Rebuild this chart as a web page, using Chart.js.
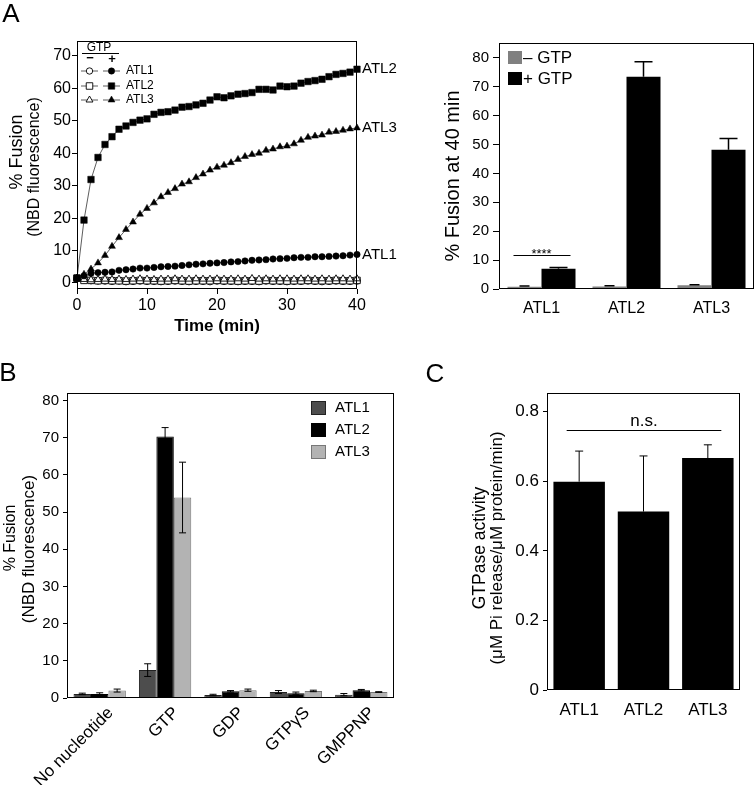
<!DOCTYPE html>
<html><head><meta charset="utf-8">
<script src="https://cdn.jsdelivr.net/npm/chart.js@4.4.1/dist/chart.umd.min.js"></script>
<style>
html,body{margin:0;padding:0;background:#fff;}
body{width:755px;height:785px;position:relative;overflow:hidden;font-family:"Liberation Sans",Arial,Helvetica,sans-serif;color:#000;}
canvas{position:absolute;}
.t{position:absolute;white-space:nowrap;line-height:1;transform:translate(-50%,-50%);}
.r{transform:translate(-50%,-50%) rotate(-90deg);}
</style></head>
<body>
<canvas id="cA1" width="400" height="340" style="left:0;top:0;width:400px;height:340px"></canvas>
<canvas id="cA2" width="375" height="340" style="left:380px;top:0;width:375px;height:340px"></canvas>
<canvas id="cB" width="400" height="445" style="left:0;top:340px;width:400px;height:445px"></canvas>
<canvas id="cC" width="355" height="445" style="left:400px;top:340px;width:355px;height:445px"></canvas>

<div class="t" style="left:11px;top:13px;font-size:26px">A</div>
<div class="t" style="left:8px;top:372px;font-size:26px">B</div>
<div class="t" style="left:435px;top:373px;font-size:26px">C</div>

<div class="t r" style="left:16px;top:152px;font-size:18px">% Fusion</div>
<div class="t r" style="left:34px;top:167px;font-size:16px">(NBD fluorescence)</div>
<div class="t" style="left:217px;top:325px;font-size:17px;font-weight:bold">Time (min)</div>
<div class="t r" style="left:452px;top:176px;font-size:20px">% Fusion at 40 min</div>
<div class="t r" style="left:10px;top:538px;font-size:16px">% Fusion</div>
<div class="t r" style="left:28px;top:549px;font-size:17px">(NBD fluorescence)</div>
<div class="t r" style="left:480px;top:548px;font-size:17.5px">GTPase activity</div>
<div class="t r" style="left:496px;top:548px;font-size:17px">(μM Pi release/μM protein/min)</div>

<script>
// ---------------- DATA ----------------
const timeMin = [0,1,2,3,4,5,6,7,8,9,10,11,12,13,14,15,16,17,18,19,20,21,22,23,24,25,26,27,28,29,30,31,32,33,34,35,36,37,38,39,40];
const atl2Plus = [1.5,19.4,31.9,38.7,42.7,45.1,47.4,48.4,49.5,50.2,50.6,52.0,52.6,52.8,53.3,54.2,54.4,54.9,55.4,56.4,57.4,57.1,57.7,58.2,58.4,58.7,59.7,59.7,59.5,60.7,60.5,60.7,61.6,62.1,62.4,62.8,63.6,64.3,64.6,65.0,65.9];
const atl3Plus = [1.5,2.7,4.3,6.2,8.5,11.3,14.0,16.5,18.8,21.2,23.0,24.7,26.6,27.9,29.1,30.5,31.2,32.5,33.6,34.8,35.7,36.3,37.1,38.1,39.0,39.6,40.0,40.9,41.3,42.0,42.2,42.9,44.0,44.9,45.3,45.6,46.5,46.7,47.1,47.5,47.8];
const atl1Plus = [1.5,2.2,3.0,3.2,3.3,3.4,3.9,4.1,4.3,4.6,4.6,4.8,5.0,5.1,5.2,5.4,5.6,5.8,5.9,6.1,6.2,6.3,6.5,6.6,6.8,7.0,7.1,7.2,7.4,7.5,7.6,7.8,7.9,7.9,8.1,8.1,8.2,8.3,8.4,8.6,8.8];
const atl1Minus = [1.5,0.9,0.7,0.6,0.6,0.5,0.6,0.4,0.5,0.6,0.5,0.5,0.4,0.5,0.6,0.5,0.4,0.5,0.5,0.4,0.6,0.5,0.5,0.4,0.5,0.5,0.4,0.6,0.5,0.5,0.4,0.5,0.5,0.6,0.5,0.4,0.5,0.6,0.5,0.5,0.6];
const atl2Minus = [1.5,0.8,0.8,0.7,0.8,0.7,0.7,0.6,0.7,0.8,0.7,0.7,0.6,0.7,0.8,0.7,0.6,0.7,0.7,0.7,0.8,0.7,0.7,0.6,0.7,0.7,0.6,0.8,0.7,0.7,0.6,0.7,0.7,0.8,0.7,0.7,0.7,0.8,0.7,0.7,0.8];
const atl3Minus = [1.5,1.1,1.0,1.1,1.2,1.1,1.2,1.1,1.2,1.3,1.2,1.1,1.2,1.2,1.3,1.2,1.2,1.3,1.2,1.2,1.3,1.2,1.2,1.3,1.2,1.4,1.2,1.3,1.2,1.3,1.3,1.2,1.3,1.3,1.2,1.3,1.2,1.3,1.3,1.2,1.3];
const fusionTicks = [0,10,20,30,40,50,60,70];
const timeTicks = [0,10,20,30,40];

const endCats = ['ATL1','ATL2','ATL3'];
const endMinus = [0.8,0.9,1.3];
const endMinusErr = [0.2,0.2,0.2];
const endPlus = [7.0,73.4,48.2];
const endPlusErr = [0.4,5.2,3.9];
const endTicks = [0,10,20,30,40,50,60,70,80];
const endSigLevel = 11.8;

const nucCats = ['No nucleotide','GTP','GDP','GTPγS','GMPPNP'];
const nucATL1 = [1.1,7.5,0.8,1.6,0.9];
const nucATL1Err = [0.2,1.7,0.2,0.4,0.3];
const nucATL2 = [1.1,70.3,1.8,1.3,2.1];
const nucATL2Err = [0.3,2.4,0.2,0.3,0.2];
const nucATL3 = [2.0,53.9,2.1,1.9,1.6];
const nucATL3Err = [0.4,9.5,0.3,0.2,0.1];
const nucTicks = [0,10,20,30,40,50,60,70,80];

const gtpCats = ['ATL1','ATL2','ATL3'];
const gtpVals = [0.599,0.513,0.667];
const gtpErr = [0.088,0.160,0.038];
const gtpTicks = [0,0.2,0.4,0.6,0.8];
const gtpSigLevel = 0.747;

// ---------------- SETUP ----------------
const FF = '"Liberation Sans", Arial, Helvetica, sans-serif';
Chart.defaults.font.family = FF;
Chart.defaults.color = '#000';
Chart.defaults.animation = false;

function yAxis(min,max,ticks,w,tl,pad,fs){
  return {type:'linear',min,max,
    afterFit(s){s.width=w;},
    afterBuildTicks(s){s.ticks=ticks.map(v=>({value:v}));},
    grid:{display:true,drawOnChartArea:false,drawTicks:true,tickLength:tl,color:'#000',lineWidth:1},
    border:{display:false},
    ticks:{padding:pad,font:{size:fs},color:'#000'}};
}
function catAxis(h,pad,fs,rot,off){
  return {type:'category',afterFit(s){s.height=h;},
    grid:{display:false,drawTicks:false},border:{display:false},
    ticks:{padding:pad,font:{size:fs},color:'#000',autoSkip:false,maxRotation:rot,minRotation:rot,labelOffset:off||0}};
}
const boxPlugin = {id:'box',afterDraw(chart){
  const {ctx,chartArea:a}=chart;
  ctx.save();ctx.strokeStyle='#000';ctx.lineWidth=1;
  ctx.strokeRect(Math.round(a.left)+0.5,Math.round(a.top)+0.5,Math.round(a.right-a.left)-1,Math.round(a.bottom-a.top)-1);
  ctx.restore();
}};
function errPlugin(errs,up,caps,lw){
  return {id:'errbars',afterDatasetsDraw(chart){
    const ctx=chart.ctx,ys=chart.scales.y;
    chart.data.datasets.forEach((ds,di)=>{
      const meta=chart.getDatasetMeta(di);
      meta.data.forEach((bar,i)=>{
        const v=ds.data[i],e=errs[di][i];
        const yt=ys.getPixelForValue(v+e);
        const yb=up?ys.getPixelForValue(v):ys.getPixelForValue(v-e);
        const c=caps[di]/2;
        ctx.save();ctx.strokeStyle='#000';ctx.lineWidth=lw;
        ctx.beginPath();
        ctx.moveTo(bar.x,yb);ctx.lineTo(bar.x,yt);
        ctx.moveTo(bar.x-c,yt);ctx.lineTo(bar.x+c,yt);
        if(!up){ctx.moveTo(bar.x-c,yb);ctx.lineTo(bar.x+c,yb);}
        ctx.stroke();ctx.restore();
      });
    });
  }};
}

// ---------------- PANEL A (time course) ----------------
const pts = arr => timeMin.map((t,i)=>({x:t,y:arr[i]}));
function series(label,arr,style,r,filled){
  return {label,data:pts(arr),showLine:true,borderColor:'#333',borderWidth:0.8,
    pointStyle:style,pointRadius:r,pointHoverRadius:r,
    pointBackgroundColor:filled?'#000':'#fff',pointBorderColor:'#000',pointBorderWidth:filled?0.5:0.9,clip:false};
}
const legendA1 = {id:'legA1',afterDraw(chart){
  const ctx=chart.ctx;
  ctx.save();
  ctx.fillStyle='#000';ctx.strokeStyle='#000';
  ctx.font='12px '+FF;ctx.textAlign='center';ctx.textBaseline='middle';
  ctx.fillText('GTP',99,48);
  ctx.lineWidth=1;ctx.beginPath();ctx.moveTo(82,53.5);ctx.lineTo(119,53.5);ctx.stroke();
  ctx.font='bold 13px '+FF;
  ctx.fillText('\u2212',90,58);ctx.fillText('+',112,59);
  const rows=[71,86,100],styles=['circle','rect','triangle'],rs=[3.2,4.6,4],names=['ATL1','ATL2','ATL3'];
  rows.forEach((y,i)=>{
    ctx.strokeStyle='#333';ctx.lineWidth=0.8;
    ctx.beginPath();ctx.moveTo(81,y);ctx.lineTo(98,y);ctx.moveTo(103,y);ctx.lineTo(120,y);ctx.stroke();
    ctx.strokeStyle='#000';ctx.lineWidth=0.9;ctx.fillStyle='#fff';
    Chart.helpers.drawPoint(ctx,{pointStyle:styles[i],radius:rs[i],rotation:0,borderWidth:0.9},89.5,y);
    ctx.fillStyle='#000';ctx.lineWidth=0.5;
    Chart.helpers.drawPoint(ctx,{pointStyle:styles[i],radius:rs[i],rotation:0,borderWidth:0.5},111.5,y);
    ctx.fillStyle='#000';ctx.font='12px '+FF;ctx.textAlign='left';ctx.textBaseline='middle';
    ctx.fillText(names[i],126,y);
  });
  const ys=chart.scales.y,a=chart.chartArea;
  ctx.font='15px '+FF;ctx.textAlign='left';ctx.textBaseline='middle';
  [['ATL2',atl2Plus],['ATL3',atl3Plus],['ATL1',atl1Plus]].forEach(([n,arr])=>{
    ctx.fillText(n,a.right+5,ys.getPixelForValue(arr[arr.length-1]));
  });
  ctx.restore();
}};
new Chart(document.getElementById('cA1'),{
  type:'scatter',
  data:{datasets:[
    series('ATL2 +GTP',atl2Plus,'rect',4.6,true),
    series('ATL3 +GTP',atl3Plus,'triangle',4,true),
    series('ATL1 +GTP',atl1Plus,'circle',3.2,true),
    series('ATL3 -GTP',atl3Minus,'triangle',4,false),
    series('ATL2 -GTP',atl2Minus,'rect',4.6,false),
    series('ATL1 -GTP',atl1Minus,'circle',3.2,false)
  ]},
  options:{responsive:false,animation:false,
    layout:{padding:{top:41,right:43,left:0,bottom:0}},
    plugins:{legend:{display:false},tooltip:{enabled:false}},
    scales:{
      x:{type:'linear',min:0,max:40,afterFit(s){s.height=51;},
        afterBuildTicks(s){s.ticks=timeTicks.map(v=>({value:v}));},
        grid:{display:true,drawOnChartArea:false,drawTicks:true,tickLength:5,color:'#000'},
        border:{display:false},ticks:{padding:2,font:{size:16},color:'#000'}},
      y:yAxis(-1.85,74.6,fusionTicks,77,5,1,16)
    }},
  plugins:[legendA1,boxPlugin]
});

// ---------------- PANEL A (40 min bars) ----------------
const extraA2 = {id:'extraA2',afterDraw(chart){
  const ctx=chart.ctx,ys=chart.scales.y,xs=chart.scales.x;
  ctx.save();
  ctx.fillStyle='#808080';ctx.fillRect(128,51,14,13);
  ctx.fillStyle='#000';ctx.fillRect(128,72,14,13);
  ctx.font='17px '+FF;ctx.textAlign='left';ctx.textBaseline='middle';
  ctx.fillText('\u2013 GTP',143,58);ctx.fillText('+ GTP',143,79);
  const cx=xs.getPixelForValue(0),y=Math.round(ys.getPixelForValue(endSigLevel))+0.5;
  ctx.strokeStyle='#000';ctx.lineWidth=1;
  ctx.beginPath();ctx.moveTo(cx-28,y);ctx.lineTo(cx+29,y);ctx.stroke();
  ctx.font='13px '+FF;ctx.textAlign='center';ctx.textBaseline='alphabetic';
  ctx.fillText('****',cx,y+2.5);
  ctx.restore();
}};
new Chart(document.getElementById('cA2'),{
  type:'bar',
  data:{labels:endCats,datasets:[
    {label:'\u2013GTP',data:endMinus,backgroundColor:'#808080',categoryPercentage:0.8,barPercentage:1},
    {label:'+GTP',data:endPlus,backgroundColor:'#000',categoryPercentage:0.8,barPercentage:1}
  ]},
  options:{responsive:false,animation:false,
    layout:{padding:{top:43,right:1,left:0,bottom:0}},
    plugins:{legend:{display:false},tooltip:{enabled:false}},
    scales:{x:catAxis(51,10,16,0),y:yAxis(0,85.1,endTicks,119,6,4,15)}},
  plugins:[errPlugin([endMinusErr,endPlusErr],true,[10,18],1.5),extraA2,boxPlugin]
});

// ---------------- PANEL B ----------------
const legendB = {id:'legB',afterDraw(chart){
  const ctx=chart.ctx;ctx.save();
  const cols=['#4d4d4d','#000','#b3b3b3'],bords=['#222','#000','#777'],names=['ATL1','ATL2','ATL3'],rows=[68,90,112];
  rows.forEach((y,i)=>{
    ctx.fillStyle=cols[i];ctx.fillRect(311,y-7,15,14);
    ctx.strokeStyle=bords[i];ctx.lineWidth=1;ctx.strokeRect(311.5,y-6.5,14,13);
    ctx.fillStyle='#000';ctx.font='15px '+FF;ctx.textAlign='left';ctx.textBaseline='middle';
    ctx.fillText(names[i],335,y);
  });
  ctx.restore();
}};
new Chart(document.getElementById('cB'),{
  type:'bar',
  data:{labels:nucCats,datasets:[
    {label:'ATL1',data:nucATL1,backgroundColor:'#4d4d4d',borderColor:'#222',borderWidth:1,categoryPercentage:0.8,barPercentage:1},
    {label:'ATL2',data:nucATL2,backgroundColor:'#000',borderColor:'#000',borderWidth:1,categoryPercentage:0.8,barPercentage:1},
    {label:'ATL3',data:nucATL3,backgroundColor:'#b3b3b3',borderColor:'#777',borderWidth:1,categoryPercentage:0.8,barPercentage:1}
  ]},
  options:{responsive:false,animation:false,
    layout:{padding:{top:53,right:6,left:0,bottom:0}},
    plugins:{legend:{display:false},tooltip:{enabled:false}},
    scales:{x:catAxis(87,5,17,45,11),y:yAxis(0,82,nucTicks,67,4,4,15)}},
  plugins:[errPlugin([nucATL1Err,nucATL2Err,nucATL3Err],false,[7,7,7],1),legendB,boxPlugin]
});

// ---------------- PANEL C ----------------
const extraC = {id:'extraC',afterDraw(chart){
  const ctx=chart.ctx,ys=chart.scales.y,xs=chart.scales.x;ctx.save();
  const y=Math.round(ys.getPixelForValue(gtpSigLevel))+0.5;
  const x1=xs.getPixelForValue(0)-12.5,x2=xs.getPixelForValue(2)+13.5;
  ctx.strokeStyle='#000';ctx.lineWidth=1.2;
  ctx.beginPath();ctx.moveTo(x1,y);ctx.lineTo(x2,y);ctx.stroke();
  ctx.fillStyle='#000';ctx.font='17px '+FF;ctx.textAlign='center';ctx.textBaseline='alphabetic';
  ctx.fillText('n.s.',(x1+x2)/2,y-5);
  ctx.restore();
}};
new Chart(document.getElementById('cC'),{
  type:'bar',
  data:{labels:gtpCats,datasets:[
    {label:'GTPase',data:gtpVals,backgroundColor:'#000',categoryPercentage:0.8,barPercentage:1}
  ]},
  options:{responsive:false,animation:false,
    layout:{padding:{top:53,right:15,left:0,bottom:0}},
    plugins:{legend:{display:false},tooltip:{enabled:false}},
    scales:{x:catAxis(95,10,17,0),y:yAxis(0,0.854,gtpTicks,147,4,4,17)}},
  plugins:[errPlugin([gtpErr],true,[8],1),extraC,boxPlugin]
});
</script>
</body></html>
